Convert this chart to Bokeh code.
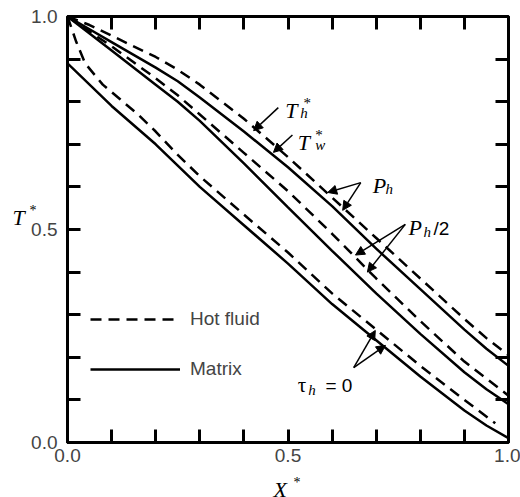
from bokeh.plotting import figure
from bokeh.models import (Range1d, LinearAxis, FixedTicker, PrintfTickFormatter,
                          Label, Arrow, NormalHead, Legend, LegendItem)
from bokeh.embed import file_html
from bokeh.resources import INLINE

# ---------------- data ----------------
x_main = [0.0, 0.05, 0.1, 0.2, 0.25, 0.3, 0.4, 0.5, 0.6, 0.7, 0.8, 0.9, 0.95, 1.0]
th_Ph = [1.0, 0.98, 0.955, 0.905, 0.875, 0.84, 0.76, 0.67, 0.575, 0.48, 0.385, 0.29, 0.245, 0.205]
tw_Ph = [1.0, 0.97, 0.94, 0.88, 0.848, 0.81, 0.73, 0.646, 0.555, 0.455, 0.36, 0.265, 0.22, 0.18]
th_half = [1.0, 0.965, 0.93, 0.855, 0.815, 0.77, 0.68, 0.59, 0.49, 0.385, 0.285, 0.19, 0.15, 0.11]
tw_half = [1.0, 0.96, 0.92, 0.84, 0.80, 0.755, 0.655, 0.552, 0.45, 0.35, 0.255, 0.165, 0.125, 0.09]
x_th0 = [0.0, 0.02, 0.04, 0.08, 0.12, 0.16, 0.2, 0.25, 0.3, 0.4, 0.5, 0.6, 0.7, 0.8, 0.9, 0.97]
th_0 = [1.0, 0.94, 0.89, 0.84, 0.805, 0.77, 0.73, 0.675, 0.625, 0.535, 0.446, 0.35, 0.265, 0.18, 0.10, 0.045]
x_tw0 = [0.0, 0.1, 0.2, 0.25, 0.3, 0.4, 0.5, 0.6, 0.7, 0.8, 0.9, 0.95, 1.0]
tw_0 = [0.89, 0.79, 0.70, 0.65, 0.60, 0.51, 0.42, 0.325, 0.24, 0.155, 0.075, 0.04, 0.01]

major_ticks = [0.0, 0.5, 1.0]
minor_ticks = [0.1, 0.2, 0.3, 0.4, 0.6, 0.7, 0.8, 0.9]
legend_labels = ["Hot fluid", "Matrix"]

# ---------------- figure ----------------
p = figure(width=520, height=497, output_backend="svg", toolbar_location=None,
           x_range=Range1d(0, 1), y_range=Range1d(0, 1),
           min_border_left=67, min_border_right=12, min_border_top=16, min_border_bottom=55)
p.background_fill_color = "white"
p.border_fill_color = "white"
p.xgrid.visible = False
p.ygrid.visible = False
p.outline_line_color = "black"
p.outline_line_width = 3

SANS = "Liberation Sans"
SERIF = "Liberation Serif"


def style_axis(ax, show_labels, standoff):
    if show_labels:
        ax.ticker = FixedTicker(ticks=major_ticks, minor_ticks=minor_ticks)
        ax.formatter = PrintfTickFormatter(format="%.1f")
        ax.major_label_text_font = SANS
        ax.major_label_text_font_size = "19px"
        ax.major_label_standoff = standoff
    else:
        ax.ticker = FixedTicker(ticks=[], minor_ticks=major_ticks[1:2] + minor_ticks)
        ax.major_label_standoff = 0
    ax.axis_line_width = 3
    ax.major_tick_in = 13
    ax.major_tick_out = 0
    ax.minor_tick_in = 13
    ax.minor_tick_out = 0
    ax.major_tick_line_width = 3
    ax.minor_tick_line_width = 3


style_axis(p.xaxis[0], True, 6)
style_axis(p.yaxis[0], True, 10)
top_ax = LinearAxis()
right_ax = LinearAxis()
style_axis(top_ax, False, 0)
style_axis(right_ax, False, 0)
p.add_layout(top_ax, "above")
p.add_layout(right_ax, "right")

DASH = "11 7"
LW = 2.5
r_h1 = p.line(x_main, th_Ph, line_color="black", line_width=LW, line_dash=DASH)
r_w1 = p.line(x_main, tw_Ph, line_color="black", line_width=LW)
p.line(x_main, th_half, line_color="black", line_width=LW, line_dash=DASH)
p.line(x_main, tw_half, line_color="black", line_width=LW)
p.line(x_th0, th_0, line_color="black", line_width=LW, line_dash=DASH)
p.line(x_tw0, tw_0, line_color="black", line_width=LW)

legend = Legend(items=[LegendItem(label=legend_labels[0], renderers=[r_h1]),
                       LegendItem(label=legend_labels[1], renderers=[r_w1])],
                location=(23, 62), glyph_width=90, glyph_height=20, label_height=20,
                spacing=28, padding=0, margin=0, border_line_color=None,
                background_fill_alpha=0, label_text_font=SANS,
                label_text_font_size="19px", label_standoff=10)
p.add_layout(legend)


def lab(x, y, text, font=SERIF, size="22px", style="italic", units="data", place="center"):
    p.add_layout(Label(x=x, y=y, text=text, text_font=font, text_font_size=size,
                       text_font_style=style, text_baseline="alphabetic",
                       x_units=units, y_units=units,
                       text_align="left", text_color="black"), place)


# axis labels: canvas pixel positions; each sits in a different side panel
# (so it is not clipped to the frame and the panels keep their sizes)
lab(12, 217, "T", units="canvas", place="left")
lab(29, 210, "*", size="14px", style="normal", units="canvas", place="right")
lab(273, 489, "X", units="canvas", place="below")
lab(293, 482, "*", size="14px", style="normal", units="canvas", place="above")

# curve annotations
lab(0.494, 0.779, "T")
lab(0.528, 0.773, "h", size="15px")
lab(0.535, 0.798, "*", size="15px", style="normal")

lab(0.522, 0.704, "T")
lab(0.562, 0.698, "w", size="15px")
lab(0.562, 0.723, "*", size="15px", style="normal")

lab(0.692, 0.603, "P")
lab(0.721, 0.594, "h", size="15px")

lab(0.773, 0.505, "P")
lab(0.807, 0.493, "h", size="15px")
lab(0.830, 0.502, "/2", font=SANS, size="19px", style="normal")

lab(0.522, 0.134, "\u03c4", size="21px", style="normal")
lab(0.546, 0.124, "h", size="15px")
lab(0.585, 0.134, "= 0", font=SANS, size="19px", style="normal")


def arrow(x0, y0, x1, y1):
    p.add_layout(Arrow(x_start=x0, y_start=y0, x_end=x1, y_end=y1, line_width=1.5,
                       line_color="black",
                       end=NormalHead(size=9, fill_color="black", line_color="black", line_width=1)))


arrow(0.478, 0.786, 0.422, 0.732)
arrow(0.51, 0.722, 0.467, 0.681)
arrow(0.665, 0.61, 0.59, 0.587)
arrow(0.665, 0.61, 0.624, 0.545)
arrow(0.766, 0.512, 0.653, 0.44)
arrow(0.766, 0.512, 0.68, 0.40)
arrow(0.649, 0.176, 0.698, 0.263)
arrow(0.649, 0.176, 0.721, 0.228)

open("out.html", "w").write(file_html(p, INLINE))
